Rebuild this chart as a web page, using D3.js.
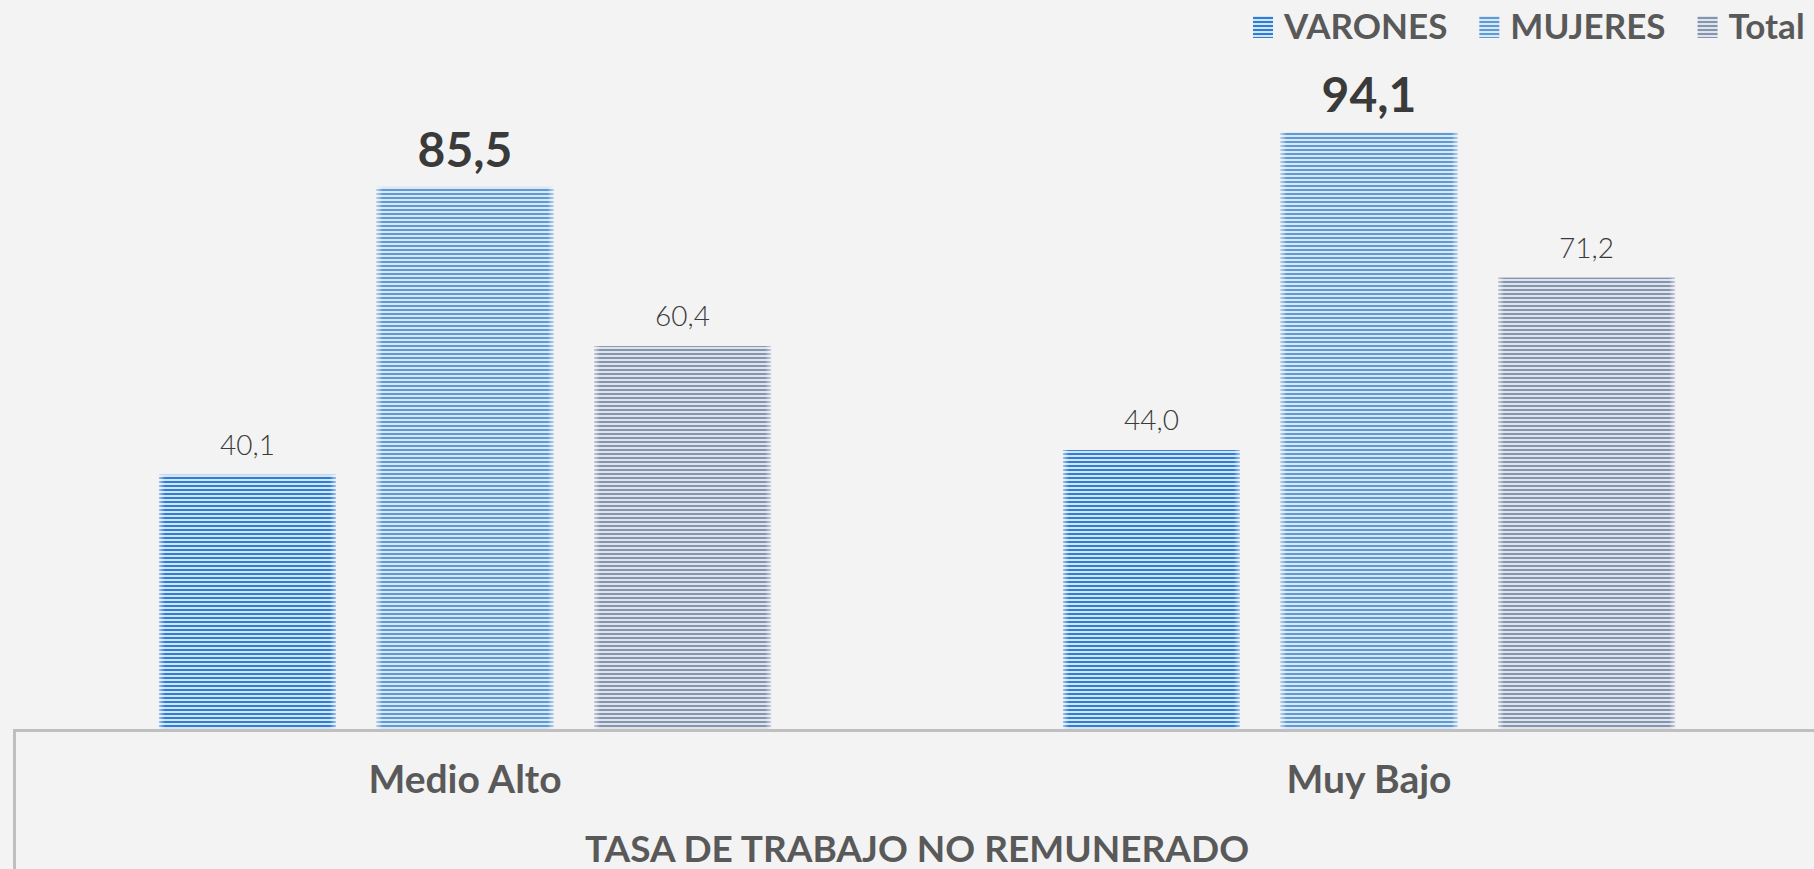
<!DOCTYPE html>
<html>
<head>
<meta charset="utf-8">
<script src="https://cdn.jsdelivr.net/npm/d3@7"></script>
<style>
  html, body { margin: 0; padding: 0; background: #f3f3f3; overflow: hidden; }
  svg { display: block; font-family: Lato, "Open Sans", sans-serif; }
</style>
</head>
<body>
<div id="chart"></div>
<script>
// data
const categories = ['Medio Alto', 'Muy Bajo'];
const series = ['VARONES', 'MUJERES', 'Total'];
const varones = [40.1, 44.0];
const mujeres = [85.5, 94.1];
const total = [60.4, 71.2];
const axisTitle = 'TASA DE TRABAJO NO REMUNERADO';

const values = { VARONES: varones, MUJERES: mujeres, Total: total };
const stripes = {
  VARONES: { dark: '#2b7fd9', light: '#d6e4f4' },
  MUJERES: { dark: '#5e9bd5', light: '#dae7f4' },
  Total: { dark: '#8595b0', light: '#dfe3ea' }
};

const width = 1814;
const height = 869;
const baseY = 729;

const svg = d3.select('#chart')
  .append('svg')
  .attr('width', width)
  .attr('height', height);

svg.append('rect').attr('width', width).attr('height', height).attr('fill', '#f3f3f3');

const defs = svg.append('defs');

series.forEach((s, i) => {
  const p = defs.append('pattern')
    .attr('id', `stripe${i}`)
    .attr('patternUnits', 'userSpaceOnUse')
    .attr('width', 4)
    .attr('height', 4);
  p.append('rect').attr('width', 4).attr('height', 4).attr('fill', stripes[s].light);
  p.append('rect').attr('y', 1).attr('width', 4).attr('height', 2).attr('fill', stripes[s].dark);
});

// soft edges on the bars
const edge = defs.append('linearGradient').attr('id', 'edge');
[[0, 0.55], [0.035, 0], [0.965, 0], [1, 0.55]].forEach(([o, a]) => {
  edge.append('stop').attr('offset', o).attr('stop-color', '#ffffff').attr('stop-opacity', a);
});

const x0 = d3.scaleBand()
  .domain(categories)
  .range([13, 1821]);

const x1 = d3.scaleBand()
  .domain(series)
  .range([0, x0.bandwidth()])
  .paddingInner(0.186)
  .paddingOuter(0.671);

const y = d3.scaleLinear()
  .domain([0, 100])
  .range([baseY, 95]);

const rows = categories.map((c, ci) => ({
  category: c,
  bars: series.map((s, si) => ({ series: s, si, value: values[s][ci] }))
}));

const groups = svg.selectAll('.group')
  .data(rows)
  .enter().append('g')
  .attr('class', 'group')
  .attr('transform', d => `translate(${x0(d.category)},0)`);

const bars = groups.selectAll('.bar')
  .data(d => d.bars)
  .enter().append('g')
  .attr('class', 'bar');

bars.append('rect')
  .attr('x', d => x1(d.series))
  .attr('y', d => y(d.value))
  .attr('width', x1.bandwidth())
  .attr('height', d => baseY - y(d.value))
  .attr('fill', d => `url(#stripe${d.si})`);

bars.append('rect')
  .attr('x', d => x1(d.series))
  .attr('y', d => y(d.value))
  .attr('width', x1.bandwidth())
  .attr('height', d => baseY - y(d.value))
  .attr('fill', 'url(#edge)');

bars.append('text')
  .attr('x', d => x1(d.series) + x1.bandwidth() / 2)
  .attr('y', d => y(d.value) - 20)
  .attr('text-anchor', 'middle')
  .attr('fill', '#3a3a3a')
  .attr('font-size', d => d.series === 'MUJERES' ? 48 : 28)
  .attr('font-weight', d => d.series === 'MUJERES' ? 700 : 300)
  .text(d => d.value.toFixed(1).replace('.', ','));

// axis frame
svg.append('path')
  .attr('d', `M14.5,${height} V${baseY + 1.5} H${width}`)
  .attr('fill', 'none')
  .attr('stroke', '#bfbfbf')
  .attr('stroke-width', 3);

const xAxis = svg.append('g')
  .attr('transform', `translate(0,${baseY})`)
  .call(d3.axisBottom(x0).tickSize(0).tickPadding(0));
xAxis.select('.domain').remove();
xAxis.selectAll('text')
  .attr('dy', 0)
  .attr('y', 64)
  .attr('fill', '#595959')
  .attr('font-family', 'Lato, sans-serif')
  .attr('font-size', 39)
  .attr('font-weight', 700);

svg.append('text')
  .attr('x', (x0.range()[0] + x0.range()[1]) / 2)
  .attr('y', 862)
  .attr('text-anchor', 'middle')
  .attr('fill', '#595959')
  .attr('font-size', 37)
  .attr('font-weight', 700)
  .text(axisTitle);

// legend
const legend = svg.append('g');
let lx = 1253;
series.forEach((s, i) => {
  legend.append('rect')
    .attr('x', lx).attr('y', 16)
    .attr('width', 20).attr('height', 22)
    .attr('fill', `url(#stripe${i})`);
  const t = legend.append('text')
    .attr('x', lx + 31)
    .attr('y', 39)
    .attr('fill', '#595959')
    .attr('font-size', 35)
    .attr('font-weight', 700)
    .text(s);
  lx += 31 + t.node().getComputedTextLength() + 32;
});
</script>
</body>
</html>
